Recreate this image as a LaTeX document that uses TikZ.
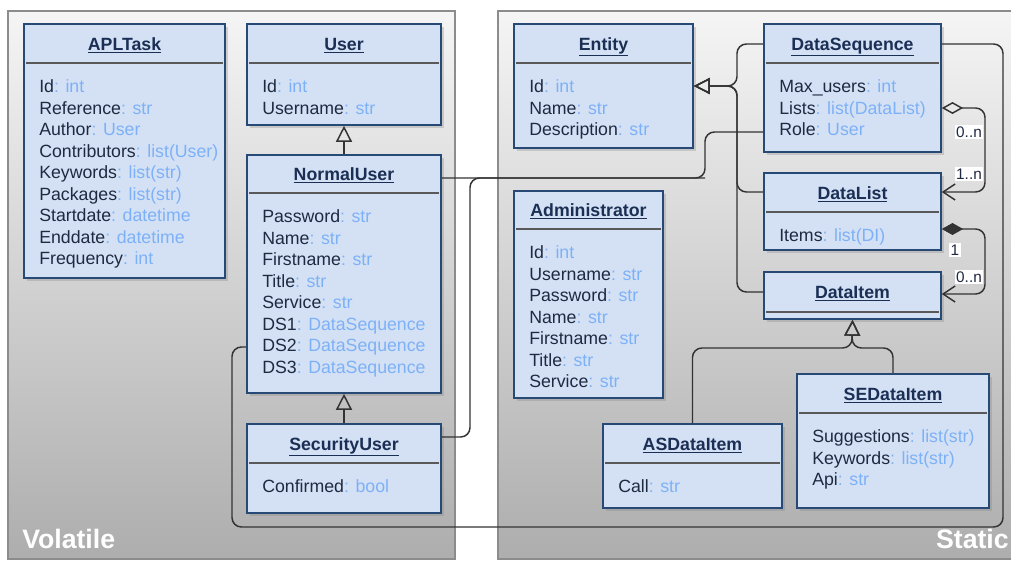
\documentclass[tikz,border=0pt]{standalone}
\usepackage{fontspec}
\setmainfont{Liberation Sans}
\usetikzlibrary{arrows.meta,fit,shadows}

\definecolor{clsfill}{HTML}{D4E1F5}
\definecolor{clsdraw}{HTML}{264A75}
\definecolor{clsname}{HTML}{1B2F55}
\definecolor{attname}{HTML}{1E2A40}
\definecolor{atttype}{HTML}{7DB1F7}

\newcommand{\ty}[1]{\textcolor{atttype}{: #1}}
% name, x1, y1, x2, y2, separator, title, attributes
\newcommand{\umlclass}[8]{%
  \node[cls, fit={(#2,#3) (#4,#5)}] (#1) {};
  \draw[sepline] ({#2+2},#6) -- ({#4-2},#6);
  \node[ttl] (#1-t) at ({(#2+#4)/2},{(#3+#6)/2+6.5}) {\underline{#7}};
  \foreach \att [count=\k from 0] in {#8} {
    \node[att] (#1-\k) at ({#2+15},{#6+29.5+\k*21.5}) {\att};
  }%
}

\begin{document}
\begin{tikzpicture}[
  x=0.75pt, y=-0.75pt,
  zone/.style={draw=black!45, line width=1.5pt, inner sep=0pt,
               top color=black!4, bottom color=black!32},
  zonelbl/.style={text=white, font=\fontsize{20}{22}\selectfont\bfseries, inner sep=0pt},
  cls/.style={draw=clsdraw, fill=clsfill, line width=1.2pt, inner sep=0pt,
              drop shadow={shadow xshift=2.5pt, shadow yshift=-2.5pt, opacity=0.3}},
  sepline/.style={draw=black!65, line width=1.1pt},
  ttl/.style={anchor=base, inner sep=0pt, text=clsname,
              font=\fontsize{13.3}{16}\selectfont\bfseries},
  att/.style={anchor=base west, inner sep=0pt, text=attname,
              font=\fontsize{13.3}{16}\selectfont},
  link/.style={draw=black!80, line width=1.1pt, rounded corners=7pt},
  inh/.style={link, -{Triangle[open, length=12pt, width=12pt]}},
  agg/.style={link, {Diamond[open, length=16pt, width=9pt]}-{Straight Barb[length=9pt, width=12pt]}},
  cmp/.style={link, {Diamond[length=16pt, width=9pt]}-{Straight Barb[length=9pt, width=12pt]}},
  lbl/.style={fill=white, inner sep=1pt, text=attname, font=\fontsize{11.5}{13}\selectfont},
]
\fill[white] (0,0) rectangle (1011,561);
\useasboundingbox (0,0) rectangle (1011,561);

% ---------- the two zones ----------
\node[zone, fit={(8,11) (455,559)}] (volatile) {};
\node[zone, fit={(498,11) (1030,559)}] (static) {};
\node[zonelbl, anchor=base west] (vlbl) at (22,548) {Volatile};
\node[zonelbl, anchor=base east] (slbl) at (1009,548) {Static};

% ---------- volatile classes ----------
\umlclass{apltask}{24}{24}{225}{278}{63}{APLTask}{Id\ty{int}, Reference\ty{str},
  Author\ty{User}, Contributors\ty{list(User)}, Keywords\ty{list(str)},
  Packages\ty{list(str)}, Startdate\ty{datetime}, Enddate\ty{datetime}, Frequency\ty{int}}
\umlclass{user}{247}{24}{441}{125}{63}{User}{Id\ty{int}, Username\ty{str}}
\umlclass{nuser}{247}{155}{441}{393}{193}{NormalUser}{Password\ty{str}, Name\ty{str},
  Firstname\ty{str}, Title\ty{str}, Service\ty{str}, DS1\ty{DataSequence},
  DS2\ty{DataSequence}, DS3\ty{DataSequence}}
\umlclass{suser}{247}{424}{441}{513}{463}{SecurityUser}{Confirmed\ty{bool}}

% ---------- static classes ----------
\umlclass{entity}{514}{24}{693}{148}{63}{Entity}{Id\ty{int}, Name\ty{str}, Description\ty{str}}
\umlclass{admin}{514}{191}{663}{398}{229}{Administrator}{Id\ty{int}, Username\ty{str},
  Password\ty{str}, Name\ty{str}, Firstname\ty{str}, Title\ty{str}, Service\ty{str}}
\umlclass{dseq}{764}{24}{941}{152}{63}{DataSequence}{Max\_users\ty{int},
  Lists\ty{list(DataList)}, Role\ty{User}}
\umlclass{dlist}{764}{173}{941}{250}{212}{DataList}{Items\ty{list(DI)}}
\umlclass{ditem}{764}{272}{941}{319}{312}{DataItem}{}
\umlclass{asdi}{603}{424}{782}{508}{463}{ASDataItem}{Call\ty{str}}
\umlclass{sedi}{797}{374}{989}{508}{413}{SEDataItem}{Suggestions\ty{list(str)},
  Keywords\ty{list(str)}, Api\ty{str}}

% ---------- inheritance ----------
\draw[inh] (nuser.north) -- (user.south);
\draw[inh] (suser.north) -- (nuser.south);

\coordinate (jent) at (737,86);
\draw[inh] (dseq.west |- 0,44) -| (jent) -- (entity.east |- jent);
\draw[inh] (dlist.west |- 0,192) -| (jent) -- (entity.east |- jent);
\draw[inh] (ditem.west |- 0,292) -| (jent) -- (entity.east |- jent);

\coordinate (jdi) at (852,348);
\draw[inh] (asdi.north) |- (jdi) -- (ditem.south);
\draw[inh] (sedi.north) |- (jdi) -- (ditem.south);

% ---------- associations ----------
\coordinate (jrole) at (470,178);
\draw[link] (nuser.east |- 0,178) -- (705,178) |- (dseq.west |- 0,132);
\draw[link] (suser.east |- 0,437) -| (jrole) -- (705,178);
\draw[link] (nuser.west |- 0,347) -| (232,527) -| (1003,100) |- (dseq.east |- 0,44);

\draw[agg] (dseq.east |- 0,108) -- (985,108) |- (dlist.east |- 0,192);
\node[lbl] (aggsrc) at (969,132) {0..n};
\node[lbl] (aggdst) at (969,174) {1..n};

\draw[cmp] (dlist.east |- 0,229) -- (985,229) |- (ditem.east |- 0,294);
\node[lbl] (cmpsrc) at (955,250) {1};
\node[lbl] (cmpdst) at (969,277) {0..n};
\end{tikzpicture}
\end{document}
